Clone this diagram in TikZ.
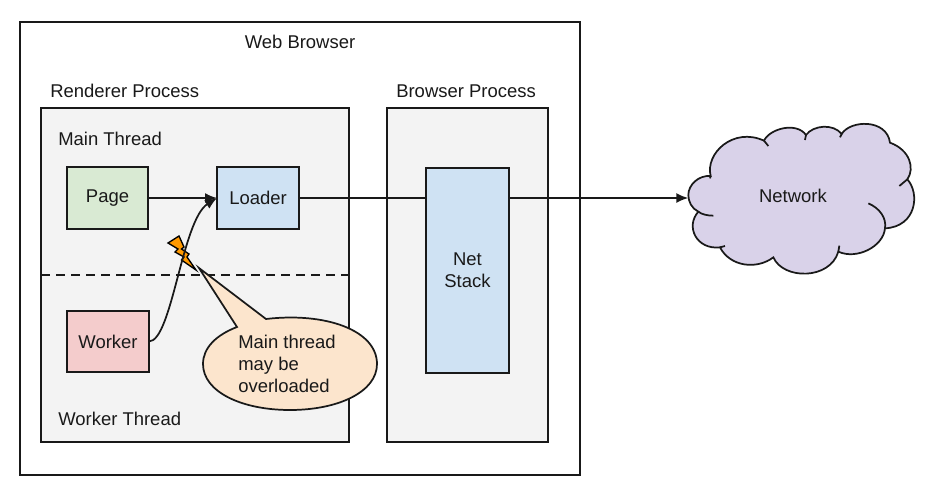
\documentclass[tikz,border=0pt]{standalone}
\usepackage{fontspec}
\usetikzlibrary{arrows.meta}
\setmainfont{Liberation Sans}
\definecolor{panel}{HTML}{F3F3F3}
\definecolor{pagegreen}{HTML}{D9EAD3}
\definecolor{loaderblue}{HTML}{CFE2F3}
\definecolor{workerred}{HTML}{F4CCCC}
\definecolor{cloudpurple}{HTML}{D9D2E9}
\definecolor{calloutpeach}{HTML}{FCE5CD}
\definecolor{boltorange}{HTML}{FF9900}
\begin{document}
\begin{tikzpicture}[
    x=0.75pt, y=-0.75pt,                    % Reference pixels
    every node/.style={font=\fontsize{13.85}{16.5}\selectfont, text=black!90},
    line/.style={line width=1.3pt, draw=black!90},
    link/.style={line, -{Latex[length=9pt,width=7.5pt]}},
    frame/.style={rectangle, line, anchor=north west, inner sep=0pt, outer sep=0pt},
    block/.style={frame, anchor=center, align=center},
    label/.style={anchor=west, inner sep=0pt}
]

\useasboundingbox (0,0) rectangle (935,497);

% Outer frames
\node[frame, fill=white, minimum width=420pt, minimum height=339.75pt] (browser) at (20,22) {};
\node[frame, fill=panel, minimum width=231pt, minimum height=250.5pt] (renderer) at (41,108) {};
\node[frame, fill=panel, minimum width=120.75pt, minimum height=250.5pt] (browserproc) at (387,108) {};

% Frame labels
\node (browserlabel) at (300,42) {Web Browser};
\node[label] (rendererlabel) at (50,91) {Renderer Process};
\node[label] (proclabel) at (396,91) {Browser Process};
\node[label] (mainlabel) at (58,139) {Main Thread};
\node[label] (workerlabel) at (58,419) {Worker Thread};

% Thread separator
\draw[line, dash pattern=on 6.75pt off 4.5pt] (renderer.west |- 0,275) -- (renderer.east |- 0,275);

% Blocks
\node[block, fill=pagegreen, minimum width=61pt, minimum height=46pt] (page) at (107.5,198) {Page};
\node[block, fill=loaderblue, minimum width=61.5pt, minimum height=46pt] (loader) at (258,198) {Loader};
\node[block, fill=workerred, minimum width=61.5pt, minimum height=46pt] (worker) at (108,341.5) {Worker};
\node[block, fill=loaderblue, minimum width=62pt, minimum height=154pt] (net) at (467.5,270.5) {Net\\Stack};

% Cloud, in zoomed units of the reference
\begin{scope}[shift={(670,110)}, x=0.25pt, y=-0.25pt]
\draw[line, fill=cloudpurple] (85,305)
    .. controls (65,295) and (55,275) .. (55,255)
    .. controls (55,225) and (85,195) .. (122,198)
    .. controls (105,130) and (190,50) .. (282,92)
    .. controls (300,55) and (380,35) .. (408,75)
    .. controls (430,45) and (490,40) .. (515,72)
    .. controls (540,30) and (650,25) .. (660,98)
    .. controls (720,120) and (735,175) .. (712,208)
    .. controls (750,250) and (740,350) .. (645,355)
    .. controls (640,410) and (560,450) .. (505,425)
    .. controls (480,510) and (340,510) .. (310,442)
    .. controls (260,480) and (180,470) .. (150,412)
    .. controls (80,420) and (45,350) .. (85,305) -- cycle;
\draw[line] (85,305) .. controls (95,313) and (112,317) .. (130,317);
\draw[line] (122,198) -- (120,205);
\draw[line] (282,92) -- (295,108);
\draw[line] (408,75) -- (405,90);
\draw[line] (515,72) -- (510,82);
\draw[line] (712,208) -- (688,228);
\draw[line] (645,355) .. controls (650,325) and (630,295) .. (595,280);
\draw[line] (505,425) -- (508,407);
\draw[line] (150,412) -- (165,408);
\coordinate (cloudwest) at (55,265);
\end{scope}
\node (network) at (793,196) {Network};

% Lightning bolt
\draw[line width=1pt, line join=miter, fill=boltorange] (168,243) -- (179,236) -- (184,247) -- (181.5,249) -- (189,254) -- (187,257) -- (196,270)
    -- (181.5,260) -- (184,257) -- (175,252) -- (178,249) -- cycle;

% Connectors
\draw[link] (page.east |- loader.west) -- (loader.west);
\draw[link] (worker.east) .. controls (172,341) and (182,220) .. (loader.west);
\draw[line] (loader.east) -- (loader.east -| net.west);
\draw[link] (loader.east -| net.east) -- (loader.east -| cloudwest);

% Callout
\draw[line, fill=calloutpeach] (199,268) -- (266,319)
    .. controls (325,312) and (377,330) .. (377,364)
    .. controls (377,392) and (338,410) .. (290,410)
    .. controls (242,410) and (203,392) .. (203,364)
    .. controls (203,348) and (216,335) .. (237,327) -- cycle;
\node[label, anchor=north west, align=left] (calloutlabel) at (238,335) {Main thread\\may be\\overloaded};

\end{tikzpicture}
\end{document}
